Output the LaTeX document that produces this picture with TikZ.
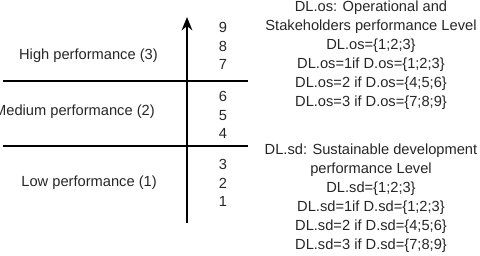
\documentclass[tikz,border=0pt]{standalone}
\usepackage{fontspec}
\setmainfont{Liberation Sans}
\usetikzlibrary{arrows.meta}

\begin{document}
\begin{tikzpicture}[
  x=0.75pt, y=-0.75pt,
  level/.style={font=\fontsize{11}{14}\selectfont, anchor=east, inner sep=0pt, text=black!85},
  digits/.style={font=\fontsize{11}{14}\selectfont, align=center, inner sep=0pt, text=black!85},
  note/.style={font=\fontsize{11}{14.2}\selectfont, align=center, inner sep=0pt, text=black!85},
  bar/.style={line width=1.2pt},
  axis/.style={-{Stealth[length=10pt, width=8pt]}, line width=1.5pt},
]
\clip (0,0) rectangle (480,255);

% Scale axis
\coordinate (axbot) at (187,223);
\coordinate (axtop) at (187,17);
\draw[axis] (axbot) -- (axtop);

% Band borders
\coordinate (hil) at (3,81);
\coordinate (hir) at (248,81);
\coordinate (lol) at (3,146);
\coordinate (lor) at (248,146);
\draw[bar] (hil) -- (hir);
\draw[bar] (lol) -- (lor);

% Levels
\node[level] (high) at (158,56) {High performance (3)};
\node[level] (medium) at (155,112) {Medium performance (2)};
\node[level] (low) at (157,183) {Low performance (1)};

% Scores
\node[digits] (d789) at (223,46) {9\\8\\7};
\node[digits] (d456) at (223,115) {6\\5\\4};
\node[digits] (d123) at (223,183) {3\\2\\1};

% Definitions
\node[note] (os) at (371,55) {DL.os: Operational and\\Stakeholders performance Level\\DL.os=\{1;2;3\}\\DL.os=1if D.os=\{1;2;3\}\\DL.os=2 if D.os=\{4;5;6\}\\DL.os=3 if D.os=\{7;8;9\}};
\node[note] (sd) at (371,198) {DL.sd: Sustainable development\\performance Level\\DL.sd=\{1;2;3\}\\DL.sd=1if D.sd=\{1;2;3\}\\DL.sd=2 if D.sd=\{4;5;6\}\\DL.sd=3 if D.sd=\{7;8;9\}};

\end{tikzpicture}
\end{document}
